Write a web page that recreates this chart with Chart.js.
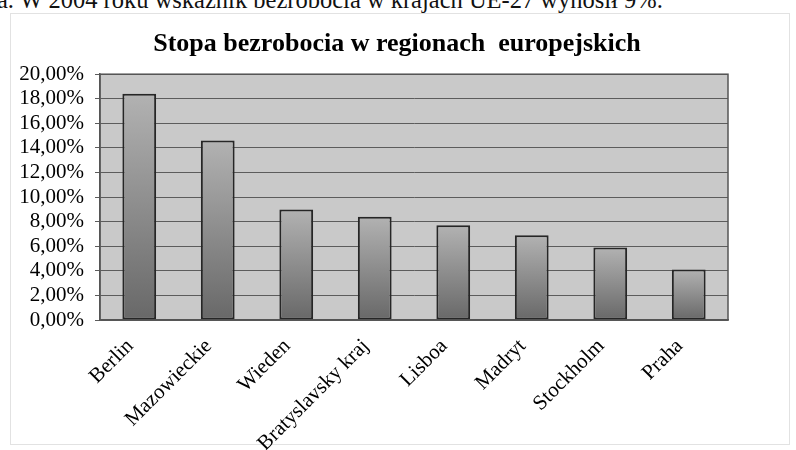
<!DOCTYPE html>
<html lang="pl">
<head>
<meta charset="utf-8">
<script src="https://cdn.jsdelivr.net/npm/chart.js@4/dist/chart.umd.min.js"></script>
<style>
    html, body { margin: 0; padding: 0; background: #fff; }
    #wrap { position: relative; width: 796px; height: 450px; overflow: hidden; }
    #intro {
        position: absolute; left: -3px; top: -12px;
        font: 24.5px/24px "Liberation Serif", serif; color: #111; white-space: nowrap;
    }
    #frame {
        position: absolute; left: 10px; top: 13px; width: 778px; height: 430px;
        border: 1px solid #e2e2e2;
    }
    canvas { position: absolute; left: 0; top: 0; }
</style>
</head>
<body>
<div id="wrap">
    <div id="intro">a. W 2004 roku wskaźnik bezrobocia w krajach UE-27 wynosił 9%.</div>
    <div id="frame"></div>
    <canvas id="unemploymentChart" width="796" height="450"></canvas>
</div>
<script>
/* dane */
const regions = ['Berlin', 'Mazowieckie', 'Wieden', 'Bratyslavsky kraj', 'Lisboa', 'Madryt', 'Stockholm', 'Praha'];
const unemployment = [18.4, 14.6, 9.0, 8.4, 7.7, 6.9, 5.9, 4.1];
const yTicks = [0, 2, 4, 6, 8, 10, 12, 14, 16, 18, 20];

const serif = '"Liberation Serif", "Times New Roman", serif';

/* tło obszaru wykresu i ramka */
const plotBackground = {
    id: 'plotBackground',
    beforeDraw(chart) {
        const { ctx, chartArea: a } = chart;
        ctx.save();
        ctx.fillStyle = '#c9c9c9';
        ctx.fillRect(a.left, a.top, a.right - a.left, a.bottom - a.top);
        ctx.restore();
    },
    afterDatasetsDraw(chart) {
        const { ctx, chartArea: a } = chart;
        ctx.save();
        ctx.strokeStyle = '#555';
        ctx.lineWidth = 1.5;
        ctx.strokeRect(a.left, a.top, a.right - a.left, a.bottom - a.top);
        ctx.restore();
    }
};

/* gradient słupka od góry do dołu */
function barGradient(context) {
    const chart = context.chart;
    const a = chart.chartArea;
    if (!a) return '#888';
    const yScale = chart.scales.y;
    const top = yScale.getPixelForValue(context.raw);
    const g = chart.ctx.createLinearGradient(0, top, 0, yScale.getPixelForValue(0));
    g.addColorStop(0, '#b2b2b2');
    g.addColorStop(1, '#686868');
    return g;
}

const ctx = document.getElementById('unemploymentChart');

new Chart(ctx.getContext('2d'), {
    type: 'bar',
    data: {
        labels: regions,
        datasets: [{
            data: unemployment,
            backgroundColor: barGradient,
            borderColor: '#262626',
            borderWidth: 2,
            borderSkipped: false,
            categoryPercentage: 1,
            barPercentage: 0.43
        }]
    },
    options: {
        responsive: false,
        animation: false,
        layout: { padding: { left: 10, right: 12, top: 0, bottom: 0 } },
        scales: {
            y: {
                min: 0,
                max: 20,
                afterBuildTicks: scale => {
                    scale.ticks = yTicks.map(v => ({ value: v }));
                },
                afterFit: scale => { scale.width = 90; },
                ticks: {
                    color: '#000',
                    font: { family: serif, size: 21 },
                    padding: 11,
                    autoSkip: false,
                    callback: v => v.toFixed(2).replace('.', ',') + '%'
                },
                grid: {
                    color: '#5c5c5c',
                    lineWidth: 1,
                    tickLength: 5,
                    drawTicks: true
                },
                border: { color: '#555', width: 1.5 }
            },
            // pusta oś po prawej: tylko rezerwuje miejsce, tytuł zostaje na środku
            spacer: {
                type: 'linear',
                position: 'right',
                afterFit: scale => { scale.width = 56; },
                ticks: { display: false },
                grid: { display: false },
                border: { display: false }
            },
            x: {
                afterFit: scale => { scale.height = 130; },
                ticks: {
                    color: '#000',
                    font: { family: serif, size: 21 },
                    minRotation: 45,
                    maxRotation: 45,
                    autoSkip: false,
                    labelOffset: -9,
                    padding: 6
                },
                grid: { display: false },
                border: { color: '#555', width: 1.5 }
            }
        },
        plugins: {
            legend: { display: false },
            tooltip: { enabled: false },
            title: {
                display: true,
                text: 'Stopa bezrobocia w regionach  europejskich',
                color: '#000',
                font: { family: serif, size: 26, weight: 'bold' },
                padding: { top: 29, bottom: 14 }
            }
        }
    },
    plugins: [plotBackground]
});
</script>
</body>
</html>
